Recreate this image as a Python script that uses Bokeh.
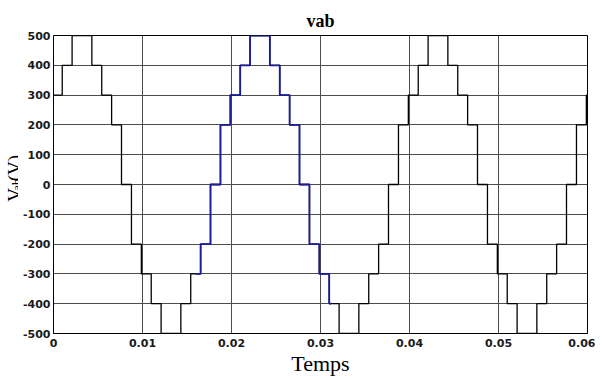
from bokeh.plotting import figure
from bokeh.models import Range1d, FixedTicker, Label
from bokeh.layouts import row
from bokeh.embed import file_html
from bokeh.resources import INLINE
import math

# Step waveform: switching instants (s) and level held after each instant (V)
T = [0.0, 0.00098, 0.00209, 0.00431, 0.00542, 0.00653, 0.00764, 0.00876,
     0.00987, 0.01098, 0.01209, 0.01431, 0.01542, 0.01653, 0.01764, 0.01876,
     0.01987, 0.02098, 0.02209, 0.02431, 0.02542, 0.02653, 0.02764, 0.02876,
     0.02987, 0.03098, 0.03209, 0.03431, 0.03542, 0.03653, 0.03764, 0.03876,
     0.03987, 0.04098, 0.04209, 0.04431, 0.04542, 0.04653, 0.04764, 0.04876,
     0.04987, 0.05098, 0.05209, 0.05431, 0.05542, 0.05653, 0.05764, 0.05876,
     0.05987, 0.06]
V = [300, 400, 500, 400, 300, 200, 0, -200,
     -300, -400, -500, -400, -300, -200, 0, 200,
     300, 400, 500, 400, 300, 200, 0, -200,
     -300, -400, -500, -400, -300, -200, 0, 200,
     300, 400, 500, 400, 300, 200, 0, -200,
     -300, -400, -500, -400, -300, -200, 0, 200,
     300, 300]

# highlighted (blue) portion of the trace
BLUE_START = 0.0160
BLUE_END = 0.0312

x_ticks = [0, 0.01, 0.02, 0.03, 0.04, 0.05, 0.06]
x_tick_labels = ["0", "0.01", "0.02", "0.03", "0.04", "0.05", "0.06"]
y_ticks = [-500, -400, -300, -200, -100, 0, 100, 200, 300, 400, 500]
y_tick_labels = ["-500", "-400", "-300", "-200", "-100", "0",
                 "100", "200", "300", "400", "500"]

# build highlighted subset
bx, by = [], []
start_val = V[0]
for t, v in zip(T, V):
    if t <= BLUE_START:
        start_val = v
bx.append(BLUE_START); by.append(start_val)
last = start_val
for t, v in zip(T, V):
    if BLUE_START < t < BLUE_END:
        bx.append(t); by.append(v); last = v
bx.append(BLUE_END); by.append(last)

H = 378
LW = 18  # width of the strip holding the y-axis title

p = figure(width=595 - LW, height=H, output_backend="svg", toolbar_location=None,
           x_range=Range1d(0, 0.06), y_range=Range1d(-500, 500),
           min_border_left=53 - LW, min_border_right=8, min_border_top=35,
           min_border_bottom=44)
p.background_fill_color = "white"
p.border_fill_color = "white"
p.outline_line_color = "black"
p.outline_line_width = 1

p.title.text = "vab"
p.title.align = "center"
p.title.text_font = "Liberation Serif"
p.title.text_font_size = "18px"
p.title.text_font_style = "bold"
p.title.text_color = "black"

for ax in (p.xaxis[0], p.yaxis[0]):
    ax.axis_line_color = "black"
    ax.major_tick_in = 0
    ax.major_tick_out = 0
    ax.minor_tick_in = 0
    ax.minor_tick_out = 0
    ax.major_label_text_font = "DejaVu Sans"
    ax.major_label_text_font_size = "11px"
    ax.major_label_text_font_style = "bold"
    ax.major_label_text_color = "#1a1a1a"

p.xaxis.ticker = FixedTicker(ticks=x_ticks)
p.xaxis.major_label_overrides = {t: s for t, s in zip(x_ticks, x_tick_labels)}
p.xaxis.major_label_standoff = 5
p.xaxis.axis_label = "Temps"
p.xaxis.axis_label_text_font = "Liberation Serif"
p.xaxis.axis_label_text_font_size = "22px"
p.xaxis.axis_label_text_font_style = "normal"
p.xaxis.axis_label_text_color = "black"
p.xaxis.axis_label_standoff = 1

p.yaxis.ticker = FixedTicker(ticks=y_ticks)
p.yaxis.major_label_overrides = {t: s for t, s in zip(y_ticks, y_tick_labels)}
p.yaxis.major_label_standoff = 3

p.xgrid.ticker = FixedTicker(ticks=x_ticks)
p.ygrid.ticker = FixedTicker(ticks=y_ticks)
for g in (p.xgrid[0], p.ygrid[0]):
    g.grid_line_color = "#4d4d4d"
    g.grid_line_width = 1

p.step(T, V, mode="after", line_color="black", line_width=1.3)
p.step(bx, by, mode="after", line_color="#1c1c9a", line_width=1.8)

# narrow strip to the left carrying the y-axis title  V_ab(V)
q = figure(width=LW, height=H, output_backend="svg", toolbar_location=None,
           x_range=Range1d(0, LW), y_range=Range1d(0, H),
           x_axis_type=None, y_axis_type=None,
           min_border_left=0, min_border_right=0, min_border_top=0, min_border_bottom=0)
q.outline_line_color = None
q.background_fill_color = "white"
q.border_fill_color = "white"
q.xgrid.visible = False
q.ygrid.visible = False
lab_font = "Liberation Serif"
for txt, cx, cy, fs in (("V", 13.5, H - 211, "19px"), ("ab", 16, H - 197, "13px"),
                        ("(V)", 13.5, H - 185, "19px")):
    q.add_layout(Label(x=cx, y=cy, text=txt, angle=math.pi / 2,
                       text_font=lab_font, text_font_size=fs,
                       text_baseline="alphabetic", text_align="left",
                       text_color="black"))

layout = row(q, p, spacing=0)
open("out.html", "w").write(file_html(layout, INLINE))
